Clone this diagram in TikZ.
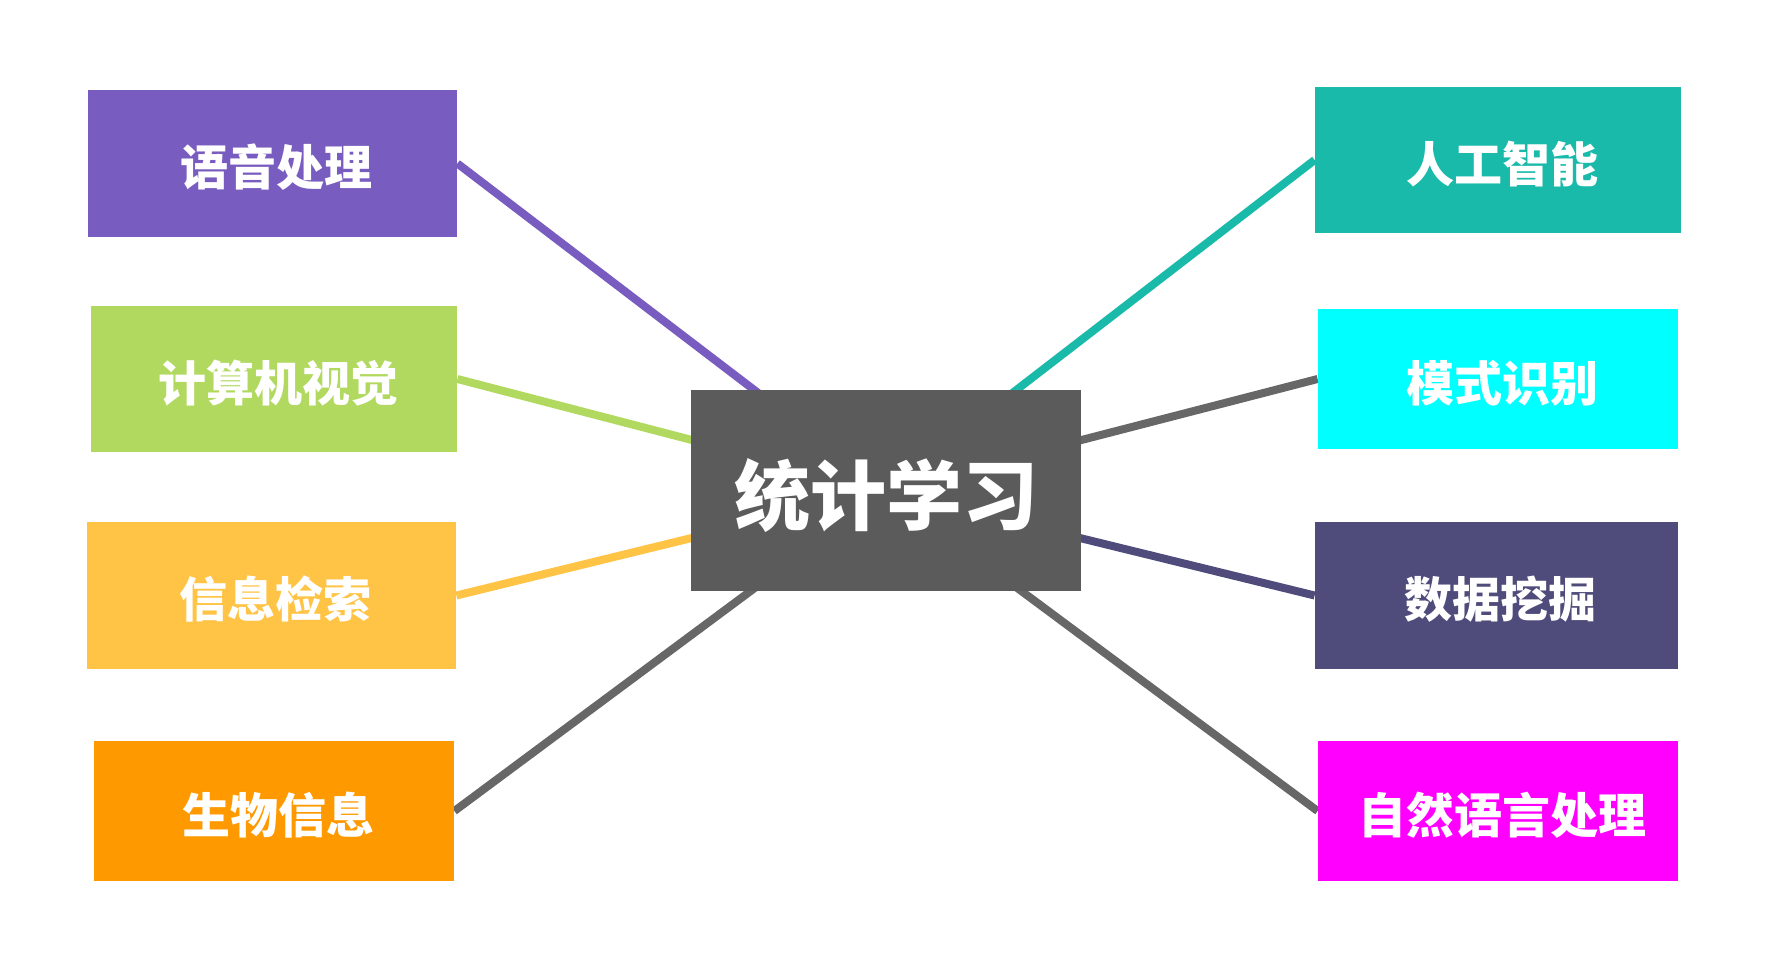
\documentclass[tikz,border=0pt]{standalone}
\usepackage{fontspec}
\usetikzlibrary{backgrounds}
\newfontfamily\cjk{Noto Sans CJK SC}
\definecolor{cPurple}{HTML}{795CBF}
\definecolor{cGreen}{HTML}{B1D960}
\definecolor{cYellow}{HTML}{FFC445}
\definecolor{cOrange}{HTML}{FF9900}
\definecolor{cTeal}{HTML}{19BAAA}
\definecolor{cCyan}{HTML}{00FFFF}
\definecolor{cSlate}{HTML}{4F4C7B}
\definecolor{cMagenta}{HTML}{FF00FF}
\definecolor{cCenter}{HTML}{5B5B5B}
\definecolor{cLine}{HTML}{676767}
\tikzset{
  leaf/.style={rectangle, inner sep=0pt, text=white, text height=22.2pt, text depth=0pt,
    execute at begin node={\hspace*{4pt}},
    font=\cjk\bfseries\fontsize{24pt}{28pt}\selectfont},
  hub/.style={rectangle, inner sep=0pt, fill=cCenter, text=white, text height=33.8pt, text depth=0pt,
    font=\cjk\bfseries\fontsize{38pt}{44pt}\selectfont},
  link/.style={line width=4pt},
}
\begin{document}
\begin{tikzpicture}[x=0.5pt,y=-0.5pt]
\useasboundingbox (0,0) rectangle (1768,969);
% nodes (sizes in px)
\node[hub, minimum width=195pt, minimum height=100.5pt] (c) at (886,490.5) {统计学习};
\node[leaf, fill=cPurple, minimum width=184.5pt, minimum height=73.5pt] (a1) at (272.5,163.5) {语音处理};
\node[leaf, fill=cGreen, minimum width=183pt, minimum height=73.25pt] (a2) at (274,379) {计算机视觉};
\node[leaf, fill=cYellow, minimum width=184.5pt, minimum height=73.5pt] (a3) at (271.5,595.5) {信息检索};
\node[leaf, fill=cOrange, minimum width=180pt, minimum height=70.25pt] (a4) at (274,811) {生物信息};
\node[leaf, fill=cTeal, minimum width=183pt, minimum height=73.25pt] (b1) at (1498,160) {人工智能};
\node[leaf, fill=cCyan, minimum width=180pt, minimum height=70.25pt] (b2) at (1498,379) {模式识别};
\node[leaf, fill=cSlate, minimum width=181.5pt, minimum height=73.5pt] (b3) at (1496.5,595.5) {数据挖掘};
\node[leaf, fill=cMagenta, minimum width=180pt, minimum height=70.25pt] (b4) at (1498,811) {自然语言处理};
% connectors behind nodes
\begin{scope}[on background layer]
\fill[white] (0,0) rectangle (1768,969);
\draw[link, cPurple] (a1.east) -- (c.center);
\draw[link, cGreen] (a2.east) -- (c.center);
\draw[link, cYellow] (a3.east) -- (c.center);
\draw[link, cLine] (a4.east) -- (c.center);
\draw[link, cTeal] (b1.west) -- (c.center);
\draw[link, cLine] (b2.west) -- (c.center);
\draw[link, cSlate] (b3.west) -- (c.center);
\draw[link, cLine] (b4.west) -- (c.center);
\end{scope}
\end{tikzpicture}
\end{document}
